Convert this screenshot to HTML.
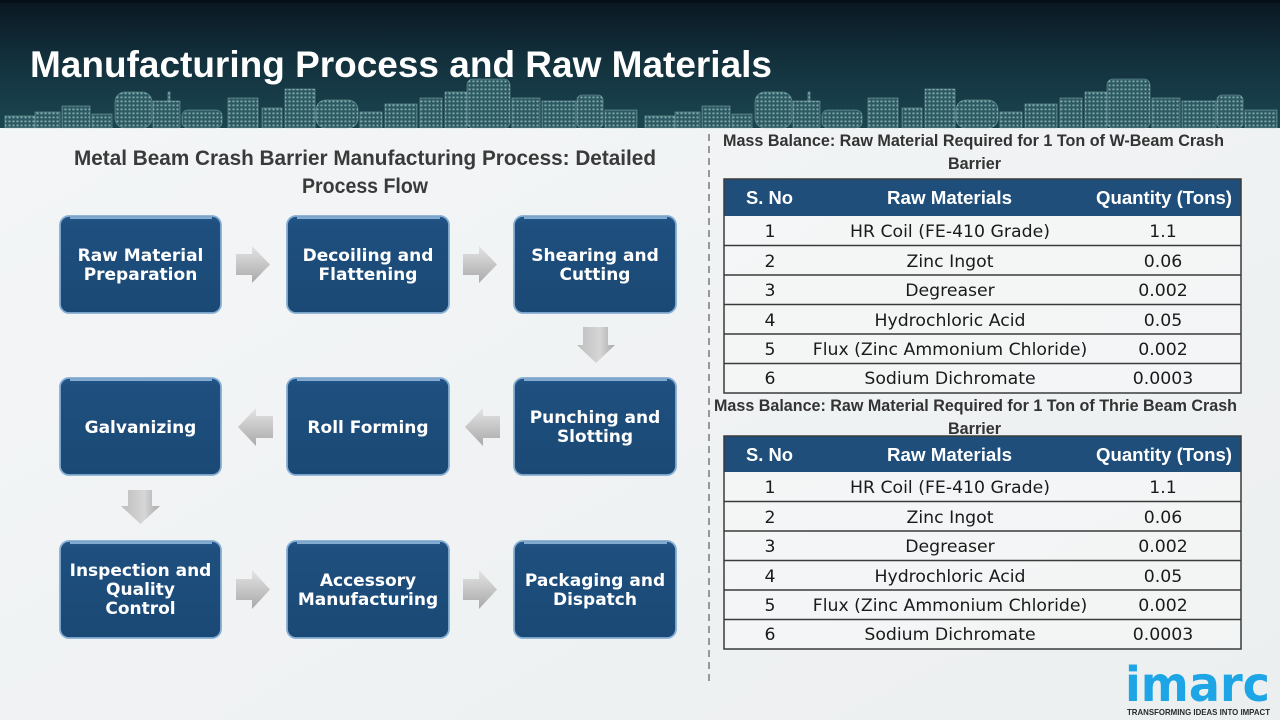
<!DOCTYPE html>
<html>
<head>
<meta charset="utf-8">
<style>
  html,body{margin:0;padding:0;background:#eff1f2;}
  svg{display:block;}
</style>
</head>
<body>
<svg width="1280" height="720" viewBox="0 0 1280 720" xmlns="http://www.w3.org/2000/svg">
  <defs>
    <linearGradient id="band" x1="0" y1="0" x2="0" y2="1">
      <stop offset="0" stop-color="#0a1621"/>
      <stop offset="0.45" stop-color="#12303c"/>
      <stop offset="1" stop-color="#1b4651"/>
    </linearGradient>
    <linearGradient id="body" x1="0" y1="0" x2="1" y2="1">
      <stop offset="0" stop-color="#f4f6f7"/>
      <stop offset="1" stop-color="#eceff0"/>
    </linearGradient>
    <pattern id="win" width="4" height="4" patternUnits="userSpaceOnUse">
      <rect width="4" height="4" fill="#2b5a62"/>
      <rect x="0.5" y="0.5" width="2" height="1.8" fill="#c9e2e3" opacity="0.6"/>
    </pattern>
    <linearGradient id="boxg" x1="0" y1="0" x2="0" y2="1">
      <stop offset="0" stop-color="#23578a"/>
      <stop offset="0.08" stop-color="#1e4f7e"/>
      <stop offset="1" stop-color="#1b4975"/>
    </linearGradient>
    <linearGradient id="arrH" x1="0" y1="0" x2="0" y2="1">
      <stop offset="0" stop-color="#e4e4e4"/>
      <stop offset="1" stop-color="#a9a9a9"/>
    </linearGradient>
    <linearGradient id="arrV" x1="0" y1="0" x2="1" y2="0">
      <stop offset="0" stop-color="#bdbdbd"/>
      <stop offset="0.6" stop-color="#d6d6d6"/>
      <stop offset="1" stop-color="#a8a8a8"/>
    </linearGradient>
    <g id="sky">
      <rect x="5" y="116" width="30" height="12"/>
      <rect x="35" y="112" width="25" height="16"/>
      <rect x="62" y="106" width="28" height="22"/>
      <rect x="92" y="114" width="20" height="14"/>
      <rect x="115" y="92" width="37" height="36" rx="10"/>
      <rect x="153" y="101" width="27" height="27"/>
      <rect x="168" y="92" width="2" height="10"/>
      <rect x="182" y="110" width="40" height="18" rx="6"/>
      <rect x="228" y="98" width="30" height="30"/>
      <rect x="262" y="108" width="20" height="20"/>
      <rect x="285" y="89" width="30" height="39"/>
      <rect x="316" y="100" width="42" height="28" rx="10"/>
      <rect x="360" y="112" width="22" height="16"/>
      <rect x="385" y="104" width="32" height="24"/>
      <rect x="420" y="98" width="22" height="30"/>
      <rect x="445" y="92" width="22" height="36"/>
      <rect x="467" y="79" width="43" height="49" rx="6"/>
      <rect x="512" y="98" width="28" height="30"/>
      <rect x="542" y="101" width="34" height="27"/>
      <rect x="577" y="95" width="26" height="33" rx="5"/>
      <rect x="605" y="110" width="32" height="18"/>
    </g>
  </defs>

  <!-- body background -->
  <rect x="0" y="0" width="1280" height="720" fill="url(#body)"/>

  <!-- header band -->
  <rect x="0" y="0" width="1280" height="128" fill="url(#band)"/>
  <rect x="0" y="0" width="1280" height="3" fill="#070f16"/>
  <g fill="url(#win)" stroke="#9ec3c6" stroke-width="0.8" stroke-opacity="0.5">
    <use href="#sky"/>
    <use href="#sky" transform="translate(640,0)"/>
  </g>

  <!-- Title -->
  <text x="30" y="77" font-family="'Liberation Sans', sans-serif" font-weight="bold" font-size="37" fill="#ffffff" textLength="742" lengthAdjust="spacingAndGlyphs">Manufacturing Process and Raw Materials</text>

  <!-- Left subtitle -->
  <text x="74" y="165" font-family="'Liberation Sans', sans-serif" font-weight="bold" font-size="21" fill="#3a3a3a" textLength="582" lengthAdjust="spacingAndGlyphs">Metal Beam Crash Barrier Manufacturing Process: Detailed</text>
  <text x="302" y="193" font-family="'Liberation Sans', sans-serif" font-weight="bold" font-size="21" fill="#3a3a3a" textLength="126" lengthAdjust="spacingAndGlyphs">Process Flow</text>

  <!-- Boxes -->
  <g stroke="#86aed3" stroke-width="1.8" fill="url(#boxg)">
    <rect x="60" y="216" width="161" height="97" rx="9"/>
    <rect x="287" y="216" width="162" height="97" rx="9"/>
    <rect x="514" y="216" width="162" height="97" rx="9"/>
    <rect x="60" y="378" width="161" height="97" rx="9"/>
    <rect x="287" y="378" width="162" height="97" rx="9"/>
    <rect x="514" y="378" width="162" height="97" rx="9"/>
    <rect x="60" y="541" width="161" height="97" rx="9"/>
    <rect x="287" y="541" width="162" height="97" rx="9"/>
    <rect x="514" y="541" width="162" height="97" rx="9"/>
  </g>
  <!-- top highlights -->
  <g stroke="#9cc0e2" stroke-width="2" fill="none" opacity="0.8">
    <line x1="70" y1="218" x2="212" y2="218"/>
    <line x1="297" y1="218" x2="440" y2="218"/>
    <line x1="524" y1="218" x2="667" y2="218"/>
    <line x1="70" y1="380" x2="212" y2="380"/>
    <line x1="297" y1="380" x2="440" y2="380"/>
    <line x1="524" y1="380" x2="667" y2="380"/>
    <line x1="70" y1="543" x2="212" y2="543"/>
    <line x1="297" y1="543" x2="440" y2="543"/>
    <line x1="524" y1="543" x2="667" y2="543"/>
  </g>

  <!-- Box labels -->
  <g font-family="'DejaVu Sans', Verdana, sans-serif" font-weight="bold" font-size="17" fill="#ffffff" text-anchor="middle">
    <text x="140.5" y="261">Raw Material</text>
    <text x="140.5" y="280">Preparation</text>
    <text x="368" y="261">Decoiling and</text>
    <text x="368" y="280">Flattening</text>
    <text x="595" y="261">Shearing and</text>
    <text x="595" y="280">Cutting</text>

    <text x="140.5" y="433">Galvanizing</text>
    <text x="368" y="433">Roll Forming</text>
    <text x="595" y="423">Punching and</text>
    <text x="595" y="442">Slotting</text>

    <text x="140.5" y="576">Inspection and</text>
    <text x="140.5" y="595">Quality</text>
    <text x="140.5" y="614">Control</text>
    <text x="368" y="586">Accessory</text>
    <text x="368" y="605">Manufacturing</text>
    <text x="595" y="586">Packaging and</text>
    <text x="595" y="605">Dispatch</text>
  </g>

  <!-- Arrows -->
  <g fill="url(#arrH)">
    <polygon points="236,254 252,254 252,246 270,264.5 252,283 252,275 236,275"/>
    <polygon points="463,254 479,254 479,246 497,264.5 479,283 479,275 463,275"/>
    <polygon points="500,416 483,416 483,408 465,427 483,446 483,438 500,438"/>
    <polygon points="273,416 256,416 256,408 238,427 256,446 256,438 273,438"/>
    <polygon points="236,579 252,579 252,570 270,589.5 252,609 252,600 236,600"/>
    <polygon points="463,579 479,579 479,570 497,589.5 479,609 479,600 463,600"/>
  </g>
  <g fill="url(#arrV)">
    <polygon points="583,327 608,327 608,345 615,345 596,363 577,345 583,345"/>
    <polygon points="128,490 152,490 152,506 160,506 140.5,524 121,506 128,506"/>
  </g>

  <!-- Divider -->
  <line x1="709" y1="134" x2="709" y2="682" stroke="#7a7a7a" stroke-width="1.5" stroke-dasharray="7 5"/>

  <!-- Table 1 -->
  <text x="723" y="146" font-family="'Liberation Sans', sans-serif" font-weight="bold" font-size="16.5" fill="#333333" textLength="501" lengthAdjust="spacingAndGlyphs">Mass Balance: Raw Material Required for 1 Ton of W-Beam Crash</text>
  <text x="948" y="169" font-family="'Liberation Sans', sans-serif" font-weight="bold" font-size="16.5" fill="#333333" textLength="53" lengthAdjust="spacingAndGlyphs">Barrier</text>

  <rect x="724" y="216" width="517" height="177" fill="#f7f8f9" fill-opacity="0.6"/>
  <rect x="724" y="179" width="517" height="37" fill="#1f4e7b"/>
  <g stroke="#3a3a3a" stroke-width="1.4">
    <line x1="724" y1="245.5" x2="1241" y2="245.5"/>
    <line x1="724" y1="275" x2="1241" y2="275"/>
    <line x1="724" y1="304.5" x2="1241" y2="304.5"/>
    <line x1="724" y1="334" x2="1241" y2="334"/>
    <line x1="724" y1="363.5" x2="1241" y2="363.5"/>
  </g>
  <rect x="724" y="179" width="517" height="214" fill="none" stroke="#3a3a3a" stroke-width="1.5"/>
  <g font-family="'Liberation Sans', sans-serif" font-weight="bold" font-size="18" fill="#ffffff">
    <text x="746" y="204" textLength="47" lengthAdjust="spacingAndGlyphs">S. No</text>
    <text x="887" y="204" textLength="125" lengthAdjust="spacingAndGlyphs">Raw Materials</text>
    <text x="1096" y="204" textLength="136" lengthAdjust="spacingAndGlyphs">Quantity (Tons)</text>
  </g>
  <g font-family="'DejaVu Sans', Verdana, sans-serif" font-size="17.3" fill="#1a1a1a" text-anchor="middle">
    <text x="770" y="237">1</text><text x="950" y="237">HR Coil (FE-410 Grade)</text><text x="1163" y="237">1.1</text>
    <text x="770" y="267">2</text><text x="950" y="267">Zinc Ingot</text><text x="1163" y="267">0.06</text>
    <text x="770" y="296">3</text><text x="950" y="296">Degreaser</text><text x="1163" y="296">0.002</text>
    <text x="770" y="326">4</text><text x="950" y="326">Hydrochloric Acid</text><text x="1163" y="326">0.05</text>
    <text x="770" y="355">5</text><text x="950" y="355">Flux (Zinc Ammonium Chloride)</text><text x="1163" y="355">0.002</text>
    <text x="770" y="384">6</text><text x="950" y="384">Sodium Dichromate</text><text x="1163" y="384">0.0003</text>
  </g>

  <!-- Table 2 -->
  <text x="714" y="411" font-family="'Liberation Sans', sans-serif" font-weight="bold" font-size="16.5" fill="#333333" textLength="523" lengthAdjust="spacingAndGlyphs">Mass Balance: Raw Material Required for 1 Ton of Thrie Beam Crash</text>
  <text x="948" y="434" font-family="'Liberation Sans', sans-serif" font-weight="bold" font-size="16.5" fill="#333333" textLength="53" lengthAdjust="spacingAndGlyphs">Barrier</text>

  <rect x="724" y="472" width="517" height="177" fill="#f7f8f9" fill-opacity="0.6"/>
  <rect x="724" y="436" width="517" height="36" fill="#1f4e7b"/>
  <g stroke="#3a3a3a" stroke-width="1.4">
    <line x1="724" y1="501.5" x2="1241" y2="501.5"/>
    <line x1="724" y1="531" x2="1241" y2="531"/>
    <line x1="724" y1="560.5" x2="1241" y2="560.5"/>
    <line x1="724" y1="590" x2="1241" y2="590"/>
    <line x1="724" y1="619.5" x2="1241" y2="619.5"/>
  </g>
  <rect x="724" y="436" width="517" height="213" fill="none" stroke="#3a3a3a" stroke-width="1.5"/>
  <g font-family="'Liberation Sans', sans-serif" font-weight="bold" font-size="18" fill="#ffffff">
    <text x="746" y="461" textLength="47" lengthAdjust="spacingAndGlyphs">S. No</text>
    <text x="887" y="461" textLength="125" lengthAdjust="spacingAndGlyphs">Raw Materials</text>
    <text x="1096" y="461" textLength="136" lengthAdjust="spacingAndGlyphs">Quantity (Tons)</text>
  </g>
  <g font-family="'DejaVu Sans', Verdana, sans-serif" font-size="17.3" fill="#1a1a1a" text-anchor="middle">
    <text x="770" y="493">1</text><text x="950" y="493">HR Coil (FE-410 Grade)</text><text x="1163" y="493">1.1</text>
    <text x="770" y="523">2</text><text x="950" y="523">Zinc Ingot</text><text x="1163" y="523">0.06</text>
    <text x="770" y="552">3</text><text x="950" y="552">Degreaser</text><text x="1163" y="552">0.002</text>
    <text x="770" y="582">4</text><text x="950" y="582">Hydrochloric Acid</text><text x="1163" y="582">0.05</text>
    <text x="770" y="611">5</text><text x="950" y="611">Flux (Zinc Ammonium Chloride)</text><text x="1163" y="611">0.002</text>
    <text x="770" y="640">6</text><text x="950" y="640">Sodium Dichromate</text><text x="1163" y="640">0.0003</text>
  </g>

  <!-- Logo -->
  <text x="1125" y="701" font-family="'DejaVu Sans', sans-serif" font-weight="bold" font-size="48" fill="#1da5e5" textLength="145" lengthAdjust="spacingAndGlyphs">imarc</text>
  <text x="1127" y="715" font-family="'Liberation Sans', sans-serif" font-weight="bold" font-size="8.5" fill="#2a2a2a" textLength="143" lengthAdjust="spacingAndGlyphs">TRANSFORMING IDEAS INTO IMPACT</text>
</svg>
</body>
</html>
